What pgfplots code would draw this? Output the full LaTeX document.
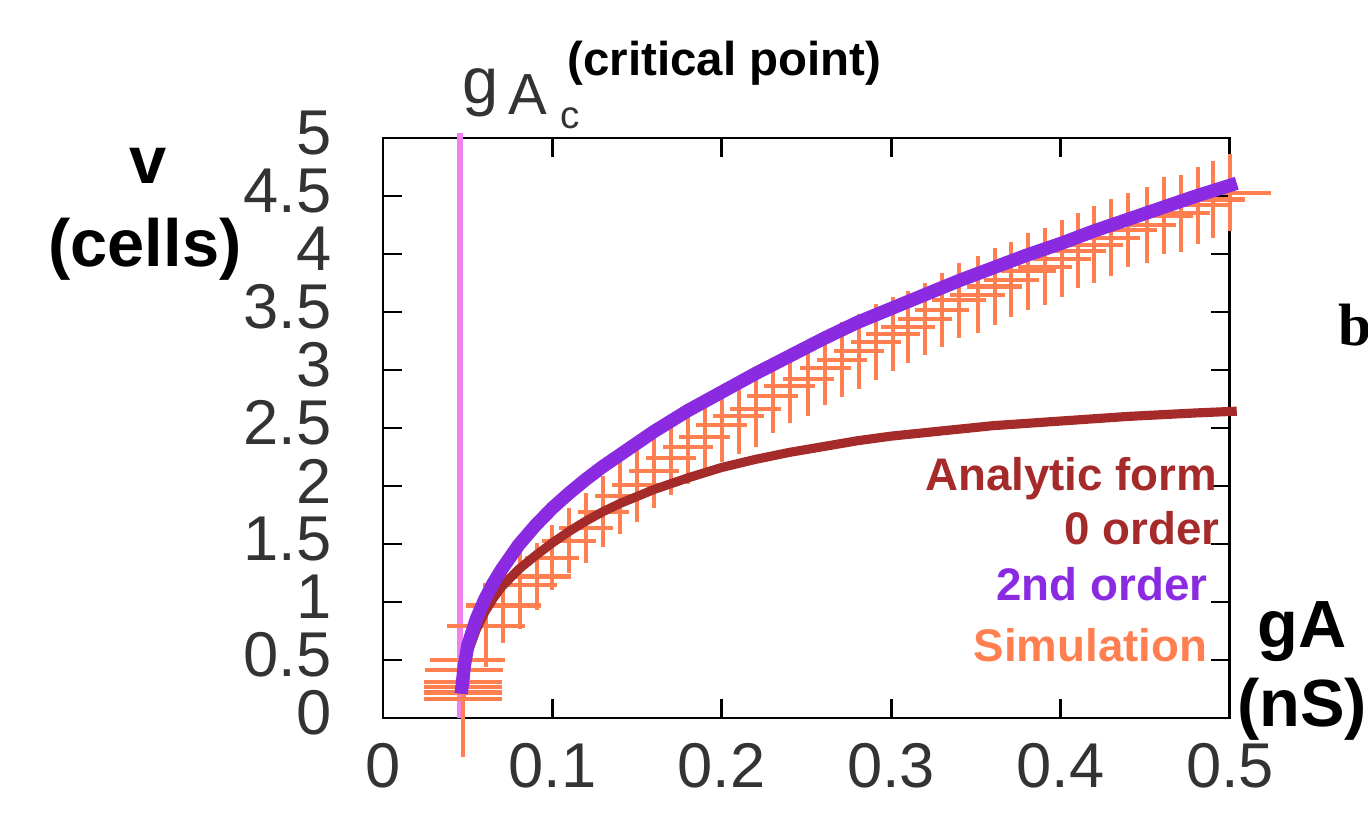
\documentclass[border=0pt]{standalone}
\usepackage{fontspec}
\setmainfont{Liberation Sans}
\newfontfamily\serifbf{Liberation Serif}
\usepackage{pgfplots}
\usepackage{pgfplotstable}
\pgfplotsset{compat=1.18}

\definecolor{simcol}{HTML}{FF7F50}
\definecolor{zerocol}{HTML}{A52A2A}
\definecolor{twocol}{HTML}{8A2BE2}
\definecolor{critcol}{HTML}{EE82EE}
\definecolor{tickcol}{HTML}{333333}

% simulation: gA, v, x error, y error
\pgfplotstableread{
x y ex ey
0.047 0.16 0.023 0.50
0.047 0.22 0.023 0.25
0.047 0.27 0.023 0.25
0.047 0.31 0.023 0.25
0.048 0.41 0.023 0.25
0.050 0.50 0.022 0.25
0.061 0.79 0.023 0.35
0.071 0.97 0.022 0.32
0.081 1.15 0.022 0.38
0.091 1.22 0.020 0.29
0.100 1.38 0.016 0.28
0.110 1.53 0.016 0.28
0.120 1.64 0.016 0.30
0.130 1.78 0.015 0.31
0.140 1.91 0.015 0.32
0.150 2.01 0.015 0.32
0.160 2.13 0.015 0.32
0.170 2.24 0.015 0.32
0.180 2.34 0.015 0.32
0.190 2.42 0.015 0.32
0.200 2.53 0.015 0.32
0.210 2.60 0.015 0.32
0.220 2.66 0.015 0.32
0.230 2.78 0.015 0.32
0.240 2.86 0.015 0.32
0.251 2.92 0.015 0.32
0.261 3.02 0.015 0.32
0.271 3.09 0.015 0.32
0.281 3.16 0.015 0.32
0.291 3.24 0.015 0.33
0.301 3.31 0.016 0.32
0.310 3.37 0.016 0.31
0.320 3.44 0.016 0.31
0.330 3.52 0.016 0.32
0.340 3.60 0.016 0.32
0.351 3.65 0.016 0.33
0.361 3.72 0.016 0.33
0.371 3.78 0.016 0.32
0.381 3.85 0.016 0.33
0.391 3.89 0.016 0.33
0.401 3.96 0.017 0.33
0.410 4.03 0.017 0.32
0.420 4.08 0.017 0.33
0.430 4.14 0.017 0.33
0.440 4.21 0.017 0.32
0.451 4.25 0.017 0.33
0.461 4.33 0.017 0.33
0.471 4.35 0.017 0.33
0.481 4.42 0.018 0.33
0.490 4.47 0.019 0.33
0.500 4.53 0.024 0.33
}\simdata

% analytic form, 0 order
\pgfplotstableread{
x y
0.0462 0.21
0.048 0.42
0.050 0.56
0.055 0.76
0.060 0.91
0.065 1.03
0.070 1.13
0.080 1.28
0.090 1.40
0.100 1.51
0.110 1.61
0.120 1.70
0.130 1.78
0.140 1.85
0.150 1.91
0.160 1.97
0.170 2.02
0.180 2.07
0.200 2.16
0.220 2.23
0.240 2.29
0.260 2.34
0.280 2.39
0.300 2.43
0.320 2.46
0.340 2.49
0.360 2.52
0.380 2.54
0.400 2.56
0.420 2.58
0.440 2.60
0.460 2.615
0.480 2.63
0.504 2.645
}\zerodata

% analytic form, 2nd order
\pgfplotstableread{
x y
0.0462 0.21
0.048 0.45
0.050 0.62
0.055 0.85
0.060 1.02
0.065 1.16
0.070 1.28
0.080 1.49
0.090 1.66
0.100 1.81
0.110 1.94
0.120 2.06
0.130 2.17
0.140 2.27
0.150 2.37
0.160 2.47
0.170 2.56
0.180 2.65
0.190 2.73
0.200 2.81
0.220 2.97
0.240 3.12
0.260 3.27
0.280 3.41
0.300 3.53
0.320 3.65
0.340 3.77
0.360 3.88
0.380 3.99
0.400 4.09
0.420 4.20
0.440 4.30
0.460 4.40
0.480 4.50
0.504 4.61
}\twodata

\begin{document}
\begin{tikzpicture}
\useasboundingbox (-38.3mm,-10.4mm) rectangle (98.5mm,71.8mm);
\begin{axis}[
  at={(0,0)}, anchor=south west,
  scale only axis, width=84.7mm, height=58mm,
  xmin=0, xmax=0.5, ymin=0, ymax=5,
  xtick={0,0.1,0.2,0.3,0.4,0.5},
  ytick={0,0.5,1,1.5,2,2.5,3,3.5,4,4.5,5},
  tick align=inside, major tick length=1.9mm,
  axis line style={line width=0.85pt},
  every tick/.style={black, line width=0.85pt},
  ticklabel style={font=\fontsize{18}{18}\selectfont, text=tickcol},
  /pgf/number format/assume math mode=true,
  /pgf/number format/fixed,
  xticklabel style={yshift=-1.3mm},
  yticklabel style={xshift=-3.9mm, yshift=0.5mm},
  clip=false,
]
% critical point
\addplot[critcol, line width=1.7pt] coordinates {(0.0455,0) (0.0455,5.04)};
% simulation
\addplot[draw=none, no markers,
  error bars/.cd, x dir=both, x explicit, y dir=both, y explicit,
  error mark=none, error bar style={draw=simcol, line width=1.15pt}]
  table[x=x, y=y, x error=ex, y error=ey] {\simdata};
\addplot[zerocol, line width=2.6pt] table[x=x, y=y] {\zerodata};
\addplot[twocol, line width=3.8pt] table[x=x, y=y] {\twodata};

% labels
\node[anchor=base, inner sep=0, font=\fontsize{19}{19}\selectfont\bfseries] at (rel axis cs:-0.2775,0.9207) {v};
\node[anchor=base, inner sep=0, font=\fontsize{19}{19}\selectfont\bfseries] at (rel axis cs:-0.281,0.7776) {(cells)};
\node[anchor=base, inner sep=0, font=\fontsize{19}{19}\selectfont\bfseries] at (rel axis cs:1.085,0.1224) {gA};
\node[anchor=base, inner sep=0, font=\fontsize{19}{19}\selectfont\bfseries] at (rel axis cs:1.085,-0.0155) {(nS)};
\node[anchor=base west, inner sep=0, text=tickcol, font=\fontsize{18.5}{18.5}\selectfont] at (rel axis cs:0.0933,1.0603) {g};
\node[anchor=base west, inner sep=0, text=tickcol, font=\fontsize{16.5}{16.5}\selectfont] at (rel axis cs:0.1476,1.0397) {A};
\node[anchor=base west, inner sep=0, text=tickcol, font=\fontsize{11}{11}\selectfont] at (rel axis cs:0.2090,1.0172) {c};
\node[anchor=base west, inner sep=0, font=\fontsize{13.5}{13.5}\selectfont\bfseries] at (rel axis cs:0.2172,1.1086) {(critical point)};
\node[anchor=base west, inner sep=0, font=\fontsize{17}{17}\selectfont\serifbf\bfseries] at (rel axis cs:1.1275,0.6431) {b};

% key
\node[anchor=base east, inner sep=0, text=zerocol, font=\fontsize{13}{13}\selectfont\bfseries] at (rel axis cs:0.9858,0.3931) {Analytic form};
\node[anchor=base east, inner sep=0, text=zerocol, font=\fontsize{13}{13}\selectfont\bfseries] at (rel axis cs:0.9882,0.2983) {0 order};
\node[anchor=base east, inner sep=0, text=twocol, font=\fontsize{13}{13}\selectfont\bfseries] at (rel axis cs:0.974,0.2034) {2nd order};
\node[anchor=base east, inner sep=0, text=simcol, font=\fontsize{13}{13}\selectfont\bfseries] at (rel axis cs:0.974,0.0966) {Simulation};
\end{axis}
\end{tikzpicture}
\end{document}
